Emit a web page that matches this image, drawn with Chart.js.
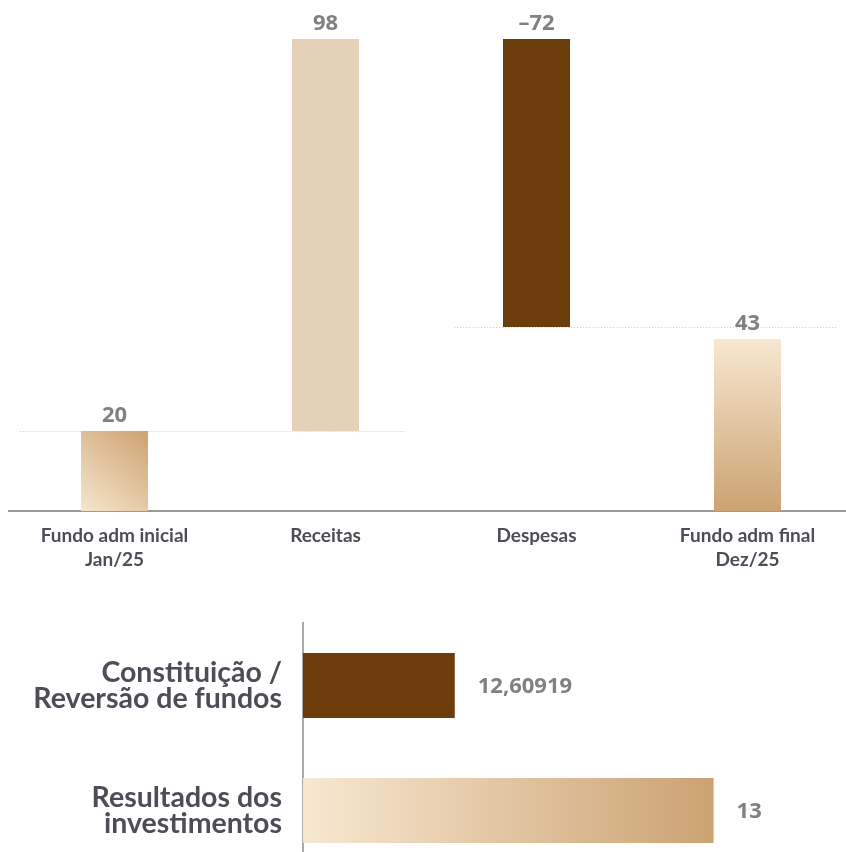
<!DOCTYPE html>
<html><head><meta charset="utf-8">
<script src="https://cdn.jsdelivr.net/npm/chart.js@4"></script>
<style>
html,body{margin:0;padding:0;background:#fff;overflow:hidden;width:846px;height:852px;}
#w1{position:absolute;left:0;top:0;width:853px;height:581px;}
#w2{position:absolute;left:0;top:600px;width:846px;height:280px;}
</style></head><body>
<div id="w1"><canvas id="c1"></canvas></div>
<div id="w2"><canvas id="c2"></canvas></div>
<script>
// ---- data ----
const wfCategories = [["Fundo adm inicial","Jan/25"],"Receitas","Despesas",["Fundo adm final","Dez/25"]];
const wfValues = [20, 98, -72, 43];
const wfKinds = ["total","delta","delta","total"];
const wfLabels = ["20","98","–72","43"];

const hbCategories = [["Constituição /","Reversão de fundos"],["Resultados dos","investimentos"]];
const hbValues = [12.60919, 13];
const hbLabels = ["12,60919","13"];

// ---- waterfall ranges built from the data ----
let running = 0;
const wfRanges = wfValues.map((v,i)=>{
  if (wfKinds[i]==="total"){ running=v; return [0,v]; }
  const r=[running, running+v]; running+=v; return r;
});

const FONT = "Lato, 'Open Sans', sans-serif";
const NUMFONT = "'Noto Sans', 'Open Sans', sans-serif";
const BAR_PCT = 0.3175;

function wfColor(ctx){
  const i = ctx.dataIndex, ch = ctx.chart, ca = ch.chartArea;
  const solid = ["#dcb893","#e5d1b8","#6b3d0b","#dcb893"];
  if (!ca || (i!==0 && i!==3)) return solid[i];
  const xs = ch.scales.x, ys = ch.scales.y;
  const cw = xs.width / wfCategories.length;
  const cx = xs.getPixelForValue(i), half = cw*BAR_PCT/2;
  const r = wfRanges[i];
  const yTop = ys.getPixelForValue(Math.max(r[0],r[1]));
  const yBot = ys.getPixelForValue(Math.min(r[0],r[1]));
  let g;
  if (i===0){
    g = ch.ctx.createLinearGradient(cx-half, yBot, cx+half, yTop);
    g.addColorStop(0,"#f6e6cc"); g.addColorStop(1,"#cea272");
  } else {
    g = ch.ctx.createLinearGradient(0, yTop, 0, yBot);
    g.addColorStop(0,"#f7e8d1"); g.addColorStop(1,"#cca272");
  }
  return g;
}

const wfPlugin = {
  id:"wf",
  beforeDatasetsDraw(chart){
    const ctx=chart.ctx, xs=chart.scales.x, ys=chart.scales.y;
    const cw = xs.width / wfCategories.length;
    ctx.save();
    ctx.strokeStyle="#c8c8c8"; ctx.lineWidth=1; ctx.setLineDash([1,2]);
    [[0,0.45,0.38],[2,0.39,0.43]].forEach(([i,a,b])=>{
      const y = Math.round(ys.getPixelForValue(wfRanges[i][1]))+0.5;
      ctx.beginPath();
      ctx.moveTo(xs.getPixelForValue(i)-a*cw, y);
      ctx.lineTo(xs.getPixelForValue(i+1)+b*cw, y);
      ctx.stroke();
    });
    ctx.restore();
  },
  afterDatasetsDraw(chart){
    const ctx=chart.ctx, meta=chart.getDatasetMeta(0);
    ctx.save();
    ctx.fillStyle="#808080"; ctx.font="bold 22px "+NUMFONT;
    ctx.textAlign="center"; ctx.textBaseline="middle";
    meta.data.forEach((b,i)=>{
      const top=Math.min(b.y,b.base);
      ctx.fillText(wfLabels[i], b.x, top-15);
    });
    ctx.restore();
  }
};

new Chart(document.getElementById("c1"),{
  type:"bar",
  data:{labels:wfCategories, datasets:[{data:wfRanges, backgroundColor:wfColor,
    barPercentage:BAR_PCT, categoryPercentage:1, borderSkipped:false}]},
  options:{
    responsive:true, maintainAspectRatio:false, animation:false,
    layout:{padding:{left:9,top:39,right:0,bottom:0}},
    plugins:{legend:{display:false}, tooltip:{enabled:false}},
    scales:{
      x:{grid:{display:false,drawTicks:false},
         border:{display:true,color:"#9a9a9a",width:2},
         ticks:{color:"#4d4d57",font:{family:FONT,weight:"bold",size:19,lineHeight:1.27},
                padding:13,maxRotation:0,autoSkip:false},
         afterFit(s){s.height=70; s.paddingLeft=0; s.paddingRight=0;}},
      y:{display:false,min:0,max:118}
    }
  },
  plugins:[wfPlugin]
});

// ---- horizontal bars ----
function hbColor(ctx){
  const i=ctx.dataIndex, ch=ctx.chart, ca=ch.chartArea;
  if (i===0) return "#6b3d0b";
  if (!ca) return "#dcb893";
  const xs=ch.scales.x;
  const g=ch.ctx.createLinearGradient(xs.getPixelForValue(xs.min),0,xs.getPixelForValue(hbValues[i]),0);
  g.addColorStop(0,"#f7e8d1"); g.addColorStop(1,"#cca272");
  return g;
}
const hbPlugin = {
  id:"hb",
  afterDatasetsDraw(chart){
    const ctx=chart.ctx, meta=chart.getDatasetMeta(0);
    ctx.save();
    ctx.fillStyle="#808080"; ctx.font="bold 22px "+NUMFONT;
    ctx.textAlign="left"; ctx.textBaseline="middle";
    meta.data.forEach((b,i)=>{ ctx.fillText(hbLabels[i], b.x+23, b.y+1); });
    ctx.restore();
  }
};
new Chart(document.getElementById("c2"),{
  type:"bar",
  data:{labels:hbCategories, datasets:[{data:hbValues, backgroundColor:hbColor,
    barPercentage:0.52, categoryPercentage:1, borderSkipped:false}]},
  options:{
    indexAxis:"y", responsive:true, maintainAspectRatio:false, animation:false,
    layout:{padding:{top:23,bottom:7,left:0,right:0}},
    plugins:{legend:{display:false}, tooltip:{enabled:false}},
    scales:{
      x:{display:false,min:12.38,max:13.2},
      y:{grid:{display:false,drawTicks:false},
         border:{display:true,color:"#aaaaaa",width:2},
         ticks:{color:"#4d4d57",font:{family:FONT,weight:"bold",size:28.5,lineHeight:0.9},padding:21},
         afterFit(s){s.width=303; s.paddingTop=0; s.paddingBottom=0;}}
    }
  },
  plugins:[hbPlugin]
});
</script>
</body></html>
